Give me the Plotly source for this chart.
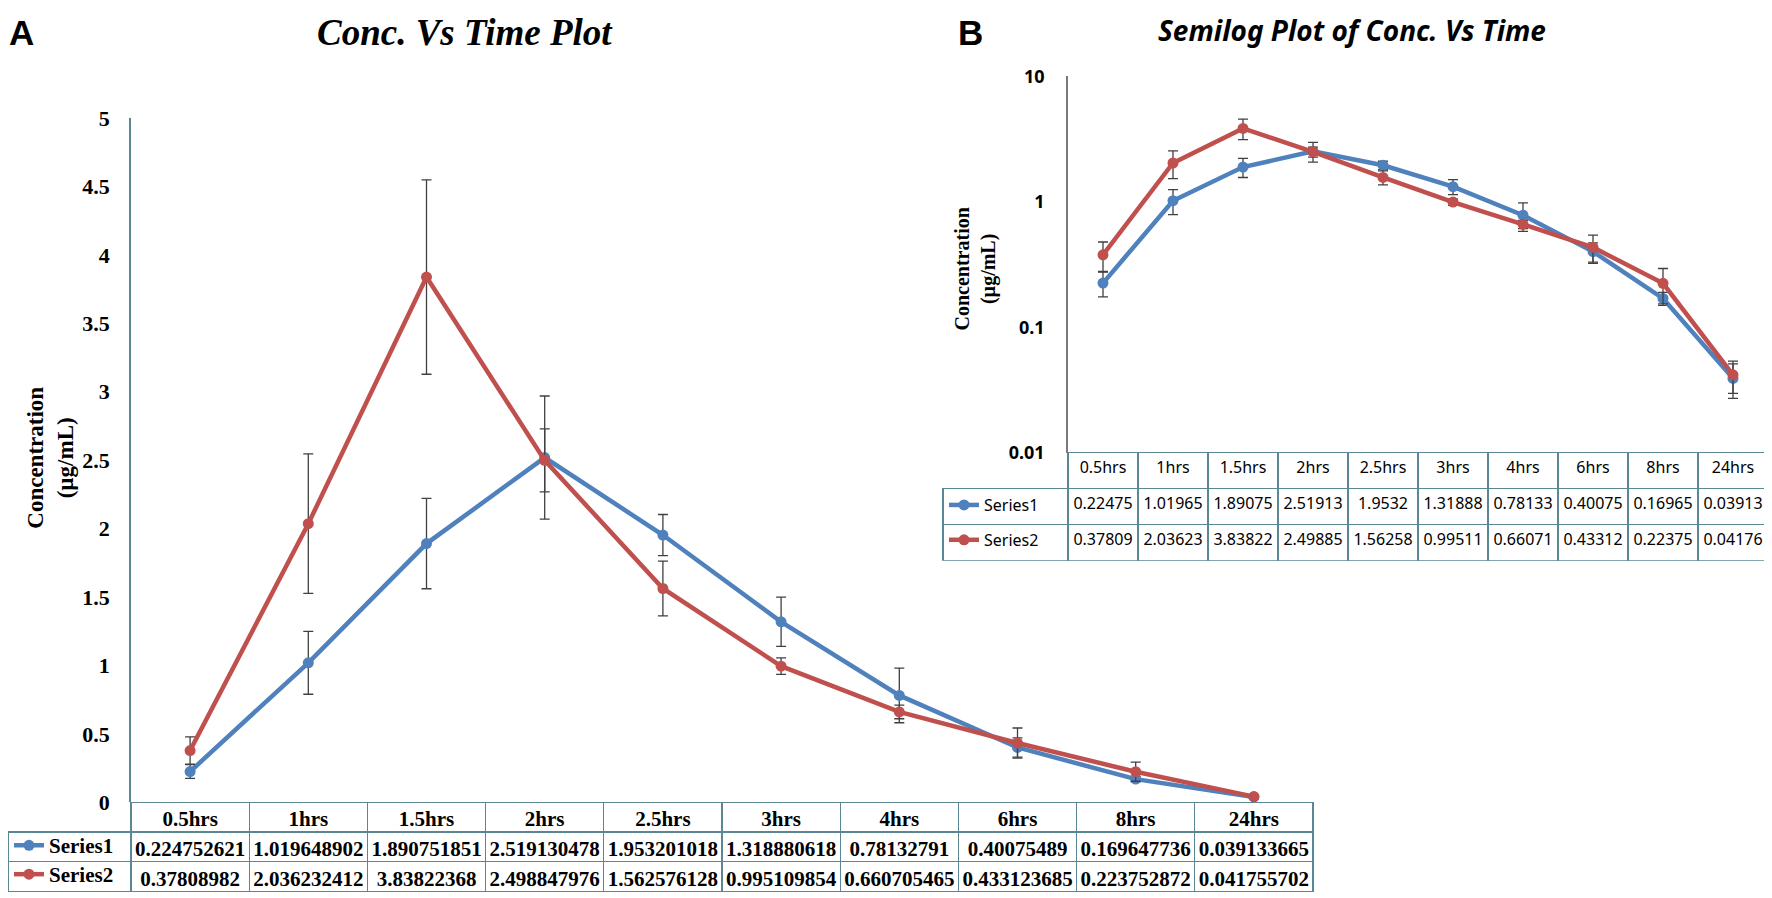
import plotly.graph_objects as go

# --- data ---
time_labels = ["0.5hrs", "1hrs", "1.5hrs", "2hrs", "2.5hrs", "3hrs", "4hrs", "6hrs", "8hrs", "24hrs"]
series_names = ["Series1", "Series2"]
series1 = [0.224752621, 1.019648902, 1.890751851, 2.519130478, 1.953201018,
           1.318880618, 0.78132791, 0.40075489, 0.169647736, 0.039133665]
series2 = [0.37808982, 2.036232412, 3.83822368, 2.498847976, 1.562576128,
           0.995109854, 0.660705465, 0.433123685, 0.223752872, 0.041755702]
err1 = [0.05, 0.23, 0.33, 0.45, 0.15, 0.18, 0.20, 0.07, 0.02, 0.012]
err2 = [0.10, 0.51, 0.71, 0.23, 0.20, 0.06, 0.05, 0.11, 0.07, 0.012]
lin_ticks = [0, 0.5, 1, 1.5, 2, 2.5, 3, 3.5, 4, 4.5, 5]
log_ticks = [0.01, 0.1, 1, 10]
log_tick_text = ["0.01", "0.1", "1", "10"]

W, H = 1772, 898
# how the page places the figure in the final picture (measured from earlier renders)
OX, OY, SY = 8, 18.5, 0.975
BLUE, RED = "#4f81bd", "#c0504d"
GRID = "#5b8795"
SERIF = "Liberation Serif"
SANS = "Noto Sans"

# plot area in picture pixels (x0..x1, y0..y1), table row height, left edge of the legend column
A = dict(x0=131, x1=1313, y0=116, y1=803, row=29, left=3)
B = dict(x0=1068, x1=1768, y0=74, y1=452, row=35, left=943)


def px_x(v):
    return min(max((v - OX) / W, 0), 1)


def px_y(v):
    return min(max(1 - (v - OY) / SY / H, 0), 1)


def fmt(v, nd):
    return f"{v:.{nd}f}".rstrip("0").rstrip(".")


def data_table(g, ndig, font, size, weight):
    n = len(time_labels)
    left = max(g["left"], OX)
    cw = (g["x1"] - g["x0"]) / n
    colw = [g["x0"] - left] + [cw] * n
    cols = [["", ""]]
    for a, b in zip(series1, series2):
        cols.append([fmt(a, ndig), fmt(b, ndig)])
    f = dict(family=font, size=size, color="black", weight=weight)
    rh = g["row"] / SY
    return go.Table(
        domain=dict(x=[px_x(left), px_x(g["x1"])],
                    y=[px_y(g["y1"] + 3 * g["row"] + 4), px_y(g["y1"])]),
        columnwidth=colw,
        header=dict(
            values=[""] + time_labels, height=rh, align="center",
            fill=dict(color=["rgba(0,0,0,0)"] + ["white"] * n),
            line=dict(color=["rgba(0,0,0,0)"] + [GRID] * n, width=1.2),
            font=f,
        ),
        cells=dict(
            values=cols, height=rh, align="center",
            fill=dict(color="rgba(0,0,0,0)"),
            line=dict(color=GRID, width=1.2),
            font=f,
        ),
    )


fig = go.Figure()

legend_no = 0
for xa, ya in [("x", "y"), ("x2", "y2")]:
    for name, vals, errs, color in [(series_names[0], series1, err1, BLUE),
                                    (series_names[1], series2, err2, RED)]:
        legend_no += 1
        fig.add_trace(go.Scatter(
            x=time_labels, y=vals, xaxis=xa, yaxis=ya, mode="lines+markers", name=name,
            line=dict(color=color, width=4.5), marker=dict(color=color, size=11),
            error_y=dict(type="data", array=errs, color="#404040", thickness=1.3, width=5),
            legend="legend" if legend_no == 1 else f"legend{legend_no}",
        ))

fig.add_trace(data_table(A, 9, SERIF, 21, "bold"))
fig.add_trace(data_table(B, 5, SANS, 16, "normal"))


def row_legend(g, row, font, size, weight):
    yc = g["y1"] + g["row"] * (row + 1.5)
    return dict(x=px_x(max(g["left"], OX) + 1), y=px_y(yc), xanchor="left", yanchor="middle",
                bgcolor="rgba(0,0,0,0)", borderwidth=0, itemwidth=30, visible=True,
                font=dict(family=font, size=size, color="black", weight=weight))


fig.update_layout(
    width=W, height=H,
    margin=dict(l=0, r=0, t=0, b=0),
    paper_bgcolor="white", plot_bgcolor="rgba(0,0,0,0)",
    showlegend=True,
    legend=row_legend(A, 0, SERIF, 21, "bold"),
    legend2=row_legend(A, 1, SERIF, 21, "bold"),
    legend3=row_legend(B, 0, SANS, 16, "normal"),
    legend4=row_legend(B, 1, SANS, 16, "normal"),
    xaxis=dict(domain=[px_x(A["x0"]), px_x(A["x1"])], anchor="y", range=[-0.5, 9.5],
               showticklabels=False, showgrid=False, zeroline=False, showline=False),
    yaxis=dict(domain=[px_y(A["y1"]), px_y(A["y0"])], anchor="x", range=[0, 5],
               tickvals=lin_ticks, showgrid=False, zeroline=False,
               showline=True, linecolor=GRID, linewidth=1.5, ticks="", ticklabelstandoff=15,
               tickfont=dict(family=SERIF, size=22, color="black", weight="bold")),
    xaxis2=dict(domain=[px_x(B["x0"]), px_x(B["x1"])], anchor="y2", range=[-0.5, 9.5],
                showticklabels=False, showgrid=False, zeroline=False, showline=False),
    yaxis2=dict(domain=[px_y(B["y1"]), px_y(B["y0"])], anchor="x2", type="log", range=[-2, 1],
                tickvals=log_ticks, ticktext=log_tick_text, showgrid=False, zeroline=False,
                showline=True, linecolor="#7a7a7a", linewidth=1.5, ticks="", ticklabelstandoff=18,
                tickfont=dict(family=SANS, size=18, color="black", weight="bold")),
)

labels = [
    (21, 30, "<b>A</b>", "Liberation Sans", 35, 0),
    (970, 30, "<b>B</b>", "Liberation Sans", 35, 0),
    (465, 30, "<b><i>Conc. Vs Time Plot</i></b>", SERIF, 37, 0),
    (1352, 28, "<b><i>Semilog Plot of Conc. Vs Time</i></b>", SANS, 28, 0),
    (51, 457, "<b>Concentration<br>(µg/mL)</b>", SERIF, 23, -90),
    (975, 268, "<b>Concentration<br>(µg/mL)</b>", SERIF, 20, -90),
]
for x, y, text, fam, size, ang in labels:
    fig.add_annotation(x=px_x(x), y=px_y(y), xref="paper", yref="paper", text=text,
                       showarrow=False, xanchor="center", yanchor="middle", textangle=ang,
                       font=dict(family=fam, size=size, color="black"))

fig.write_html("out.html")
